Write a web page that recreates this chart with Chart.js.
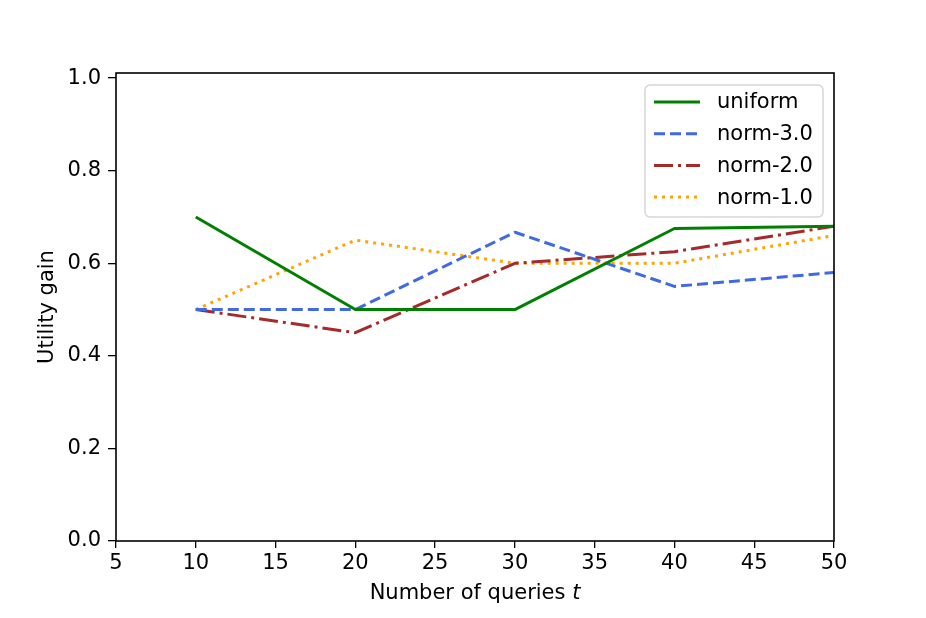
<!DOCTYPE html>
<html>
<head>
<meta charset="utf-8">
<script src="https://cdn.jsdelivr.net/npm/chart.js@4/dist/chart.umd.min.js"></script>
<style>
html,body{margin:0;padding:0;background:#fff;}
#wrap{width:926px;height:618px;}
</style>
</head>
<body>
<div id="wrap"><canvas id="c" width="926" height="618"></canvas></div>
<script>
const queries = [10, 20, 30, 40, 50];
const uniform = [0.70, 0.50, 0.50, 0.675, 0.68];
const norm30 = [0.50, 0.50, 0.667, 0.55, 0.58];
const norm20 = [0.50, 0.45, 0.60, 0.625, 0.68];
const norm10 = [0.50, 0.65, 0.60, 0.60, 0.66];
const yTicks = [0.0, 0.2, 0.4, 0.6, 0.8, 1.0];
const xTicks = [5, 10, 15, 20, 25, 30, 35, 40, 45, 50];
const seriesLabels = ['uniform', 'norm-3.0', 'norm-2.0', 'norm-1.0'];

const FONT = 'DejaVu Sans';
const FS = 21;
const toPts = arr => arr.map((v, i) => ({x: queries[i], y: v}));

const styles = [
  {color: '#008000', dash: []},
  {color: '#4169E1', dash: [11, 5]},
  {color: '#A52A2A', dash: [19, 5, 3, 5]},
  {color: '#FFA500', dash: [3, 5]}
];
const values = [uniform, norm30, norm20, norm10];

const datasets = values.map((v, i) => ({
  label: seriesLabels[i],
  data: toPts(v),
  borderColor: styles[i].color,
  backgroundColor: styles[i].color,
  borderDash: styles[i].dash,
  borderWidth: 3,
  pointRadius: 0,
  fill: false,
  tension: 0,
  borderCapStyle: 'butt',
  borderJoinStyle: 'round'
}));

const framePlugin = {
  id: 'frame',
  afterDraw(chart) {
    const {ctx, chartArea: a} = chart;
    ctx.save();
    ctx.strokeStyle = '#000';
    ctx.lineWidth = 1.6;
    ctx.setLineDash([]);
    ctx.strokeRect(a.left, a.top, a.right - a.left, a.bottom - a.top);

    // legend
    const lx = a.right - 189, ly = a.top + 12, lw = 178, lh = 132;
    ctx.fillStyle = 'rgba(255,255,255,0.8)';
    ctx.strokeStyle = '#d6d6d6';
    ctx.lineWidth = 1.5;
    const r = 5;
    ctx.beginPath();
    ctx.moveTo(lx + r, ly);
    ctx.arcTo(lx + lw, ly, lx + lw, ly + lh, r);
    ctx.arcTo(lx + lw, ly + lh, lx, ly + lh, r);
    ctx.arcTo(lx, ly + lh, lx, ly, r);
    ctx.arcTo(lx, ly, lx + lw, ly, r);
    ctx.closePath();
    ctx.fill();
    ctx.stroke();
    chart.data.datasets.forEach((ds, i) => {
      const y = ly + 17 + i * 31.7;
      ctx.beginPath();
      ctx.strokeStyle = ds.borderColor;
      ctx.lineWidth = 3;
      ctx.setLineDash(ds.borderDash);
      ctx.lineCap = 'butt';
      ctx.moveTo(lx + 9, y);
      ctx.lineTo(lx + 55, y);
      ctx.stroke();
      ctx.setLineDash([]);
      ctx.fillStyle = '#000';
      ctx.font = FS + 'px "' + FONT + '"';
      ctx.textBaseline = 'middle';
      ctx.textAlign = 'left';
      ctx.fillText(ds.label, lx + 72, y + 1);
    });

    // x axis title with italic t
    const t1 = 'Number of queries ';
    ctx.font = FS + 'px "' + FONT + '"';
    const w1 = ctx.measureText(t1).width;
    ctx.font = 'italic ' + FS + 'px "' + FONT + '"';
    const w2 = ctx.measureText('t').width;
    const cx = (a.left + a.right) / 2;
    const sx = cx - (w1 + w2) / 2;
    ctx.fillStyle = '#000';
    ctx.textBaseline = 'middle';
    ctx.textAlign = 'left';
    ctx.font = FS + 'px "' + FONT + '"';
    ctx.fillText(t1, sx, 594);
    ctx.font = 'italic ' + FS + 'px "' + FONT + '"';
    ctx.fillText('t', sx + w1, 594);
    ctx.restore();
  }
};

new Chart(document.getElementById('c'), {
  type: 'line',
  data: {datasets},
  options: {
    responsive: false,
    animation: false,
    devicePixelRatio: 1,
    layout: {padding: {left: 35, right: 92, top: 73, bottom: 0}},
    plugins: {legend: {display: false}, tooltip: {enabled: false}},
    scales: {
      x: {
        type: 'linear',
        min: 5, max: 50,
        afterBuildTicks(s) { s.ticks = xTicks.map(v => ({value: v})); },
        afterFit(s) { s.height = 77; },
        grid: {drawOnChartArea: false, drawTicks: true, tickLength: 7, color: '#000', lineWidth: 1.3},
        border: {display: false},
        ticks: {color: '#000', font: {family: FONT, size: FS}, padding: 3, maxRotation: 0, autoSkip: false}
      },
      y: {
        type: 'linear',
        min: 0, max: 1.011,
        afterBuildTicks(s) { s.ticks = yTicks.map(v => ({value: v})); },
        afterFit(s) { s.width = 81; },
        grid: {drawOnChartArea: false, drawTicks: true, tickLength: 8, color: '#000', lineWidth: 1.3},
        border: {display: false},
        title: {display: true, text: 'Utility gain', color: '#000', font: {family: FONT, size: FS}, padding: {top: 0, bottom: 0}},
        ticks: {color: '#000', font: {family: FONT, size: FS}, padding: 7, callback: v => Number(v).toFixed(1)}
      }
    }
  },
  plugins: [framePlugin]
});
</script>
</body>
</html>
